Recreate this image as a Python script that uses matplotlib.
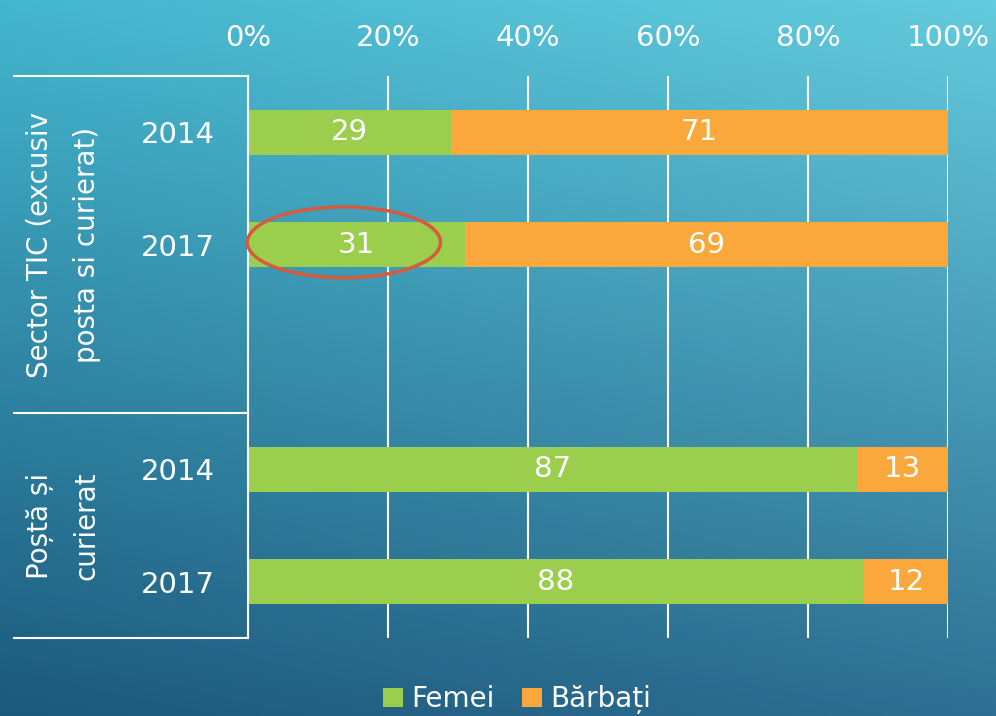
import numpy as np
import matplotlib
matplotlib.use("Agg")
import matplotlib.pyplot as plt
from matplotlib.patches import Patch, Ellipse

# ---- data ----
groups = ["Sector TIC (excusiv\nposta si curierat)", "Poștă și\ncurierat"]
years = ["2014", "2017", "", "2014", "2017"]
femei = [29, 31, None, 87, 88]
barbati = [71, 69, None, 13, 12]
series_names = ["Femei", "Bărbați"]
xticks = [0, 20, 40, 60, 80, 100]
xtick_labels = ["0%", "20%", "40%", "60%", "80%", "100%"]

GREEN = "#9BCE4C"
ORANGE = "#FAA83B"
FONT = "DejaVu Sans"
plt.rcParams["font.family"] = [FONT]

W, H = 996, 716
fig = plt.figure(figsize=(W / 100, H / 100), dpi=100)

# background gradient
bg = fig.add_axes([0, 0, 1, 1], zorder=-10)
tl = np.array([0x43, 0xB6, 0xCE]) / 255
tr = np.array([0x64, 0xCB, 0xDE]) / 255
bl = np.array([0x1C, 0x58, 0x7C]) / 255
br = np.array([0x2E, 0x70, 0x93]) / 255
u = np.linspace(0, 1, 200)[None, :, None]
v = np.linspace(0, 1, 200)[:, None, None]
img = (1 - v) * ((1 - u) * tl + u * tr) + v * ((1 - u) * bl + u * br)
bg.imshow(img, aspect="auto", extent=[0, 1, 0, 1], interpolation="bilinear")
bg.axis("off")

left, right, top, bottom = 248, 948, 76, 638
ax = fig.add_axes([left / W, 1 - bottom / H, (right - left) / W, (bottom - top) / H])
ax.patch.set_alpha(0)

pos = np.arange(len(years))
bh = 0.40
for i, (f, b) in enumerate(zip(femei, barbati)):
    if f is None:
        continue
    ax.barh(i, f, height=bh, color=GREEN, zorder=3)
    ax.barh(i, b, left=f, height=bh, color=ORANGE, zorder=3)
    ax.text(f / 2, i, str(f), ha="center", va="center", color="white", fontsize=21, zorder=4)
    ax.text(f + b / 2, i, str(b), ha="center", va="center", color="white", fontsize=21, zorder=4)

ax.set_xlim(0, 100)
ax.set_ylim(len(years) - 0.5, -0.5)
ax.xaxis.tick_top()
ax.set_xticks(xticks)
ax.set_xticklabels(xtick_labels, fontsize=21, color="white")
ax.tick_params(axis="x", length=0, pad=17)
ax.set_yticks(pos)
ax.set_yticklabels(years, fontsize=21, color="white")
ax.tick_params(axis="y", length=0, pad=24)
ax.grid(axis="x", color="white", linewidth=1.5, zorder=1)
ax.set_axisbelow(True)
for s in ["top", "right", "bottom"]:
    ax.spines[s].set_visible(False)
ax.spines["left"].set_color("white")
ax.spines["left"].set_linewidth(1.5)
ax.spines["left"].set_zorder(5)

# category table lines
tr_ = ax.get_yaxis_transform()
x0 = (14 - left) / (right - left)
for yy in [-0.5, 2.5, len(years) - 0.5]:
    ax.plot([x0, 0], [yy, yy], color="white", lw=1.5, transform=tr_, clip_on=False, zorder=5)

# group labels (two lines each)
group_centers = [1.0, 3.5]
for g, yc in zip(groups, group_centers):
    lines = g.split("\n")
    for k, line in enumerate(lines):
        xp = (40 + 47 * k - left) / (right - left)
        ax.text(xp, yc, line, rotation=90, ha="center", va="center",
                color="white", fontsize=20, transform=tr_, clip_on=False)

# highlight ellipse around 2017 Femei value
ax.add_patch(Ellipse((13.7, 0.98), 27.6, 0.63, fill=False, edgecolor="#D65A3C",
                     linewidth=2.5, zorder=6, clip_on=False))

handles = [Patch(facecolor=GREEN, edgecolor="none"), Patch(facecolor=ORANGE, edgecolor="none")]
leg = fig.legend(handles, series_names, loc="lower center", bbox_to_anchor=(0.519, -0.025),
                 ncol=2, frameon=False, fontsize=20, handlelength=0.7, handleheight=0.7,
                 handletextpad=0.3, columnspacing=1.0, borderpad=0.2)
for t in leg.get_texts():
    t.set_color("white")

fig.savefig("out.png", dpi=100)
